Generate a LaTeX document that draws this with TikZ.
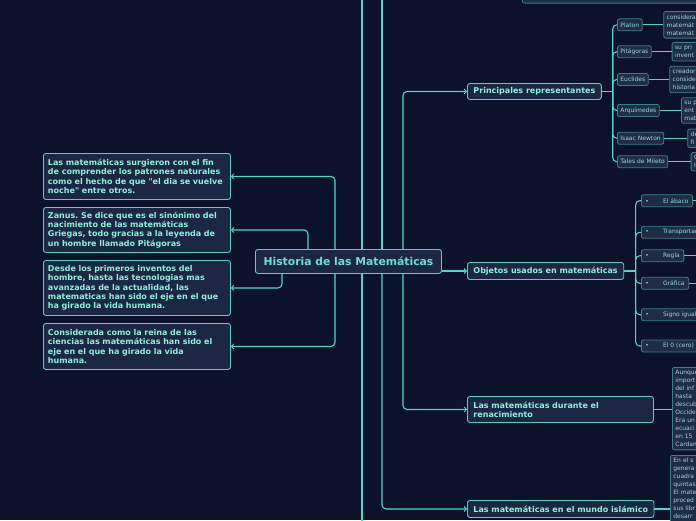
\documentclass[tikz,border=0pt]{standalone}
\usepackage{fontspec}
\setmainfont{DejaVu Sans}
\usetikzlibrary{arrows.meta,positioning,calc}
\definecolor{bgc}{HTML}{0B1229}
\definecolor{fillc}{HTML}{1C2743}
\definecolor{bordc}{HTML}{55CFC4}
\definecolor{edgec}{HTML}{4FD6C8}
\definecolor{textc}{HTML}{8EF0D8}
\definecolor{rootc}{HTML}{72DCD0}
\definecolor{sfillc}{HTML}{1E2D45}
\definecolor{sbordc}{HTML}{3D7E86}
\definecolor{stextc}{HTML}{A0D4D6}
\frenchspacing

\begin{document}
\begin{tikzpicture}[
  x=1pt, y=-1pt,
  line/.style={draw=edgec, line width=1.1pt, rounded corners=4pt},
  arr/.style={line, -{Straight Barb[length=2.2pt, width=5pt, line width=1pt]}},
  big/.style={draw=bordc, fill=fillc, line width=0.9pt, rounded corners=2.5pt,
              text=textc, inner xsep=6pt, inner ysep=0pt,
              font=\fontsize{8}{9.2}\selectfont\bfseries},
  note/.style={big, anchor=north west, minimum width=187pt, text width=178pt,
               inner xsep=4.5pt, align=left},
  head/.style={big, anchor=north west, minimum height=17pt},
  small/.style={draw=sbordc, fill=sfillc, line width=0.8pt, rounded corners=2pt,
                text=stextc, font=\fontsize{6}{8}\selectfont, inner xsep=3pt,
                inner ysep=0pt, minimum height=12pt, anchor=west},
  item/.style={small, inner xsep=4pt, align=left},
  desc/.style={small, inner ysep=3pt, text width=60pt, align=left}
]
\useasboundingbox (0,0) rectangle (696,520);
\clip (0,0) rectangle (696,520);
\fill[bgc] (0,0) rectangle (696,520);

% ---------------- central topic ----------------
\node[big, anchor=north west, minimum width=186pt, minimum height=24pt, text=rootc,
      font=\fontsize{10.8}{12}\selectfont\bfseries] (root) at (255,249)
  {Historia de las Matemáticas};

% ---------------- left notes ----------------
\node[note, minimum height=46pt] (l1) at (43,153)
  {Las matemáticas surgieron con el fin\\ de comprender los patrones naturales\\
   como el hecho de que \textquotedbl el dia se vuelve\\ noche\textquotedbl\ entre otros.};
\node[note, minimum height=45pt] (l2) at (43,207)
  {Zanus. Se dice que es el sinónimo del\\ nacimiento de las matemáticas\\
   Griegas, todo gracias a la leyenda de\\ un hombre llamado Pitágoras};
\node[note, minimum height=55pt] (l3) at (43,260)
  {Desde los primeros inventos del\\ hombre, hasta las tecnologias mas\\
   avanzadas de la actualidad, las\\ matematicas han sido el eje en el que\\
   ha girado la vida humana.};
\node[note, minimum height=46pt] (l4) at (43,323)
  {Considerada como la reina de las\\ ciencias las matemáticas han sido el\\
   eje en el que ha girado la vida\\ humana.};

% ---------------- main branches ----------------
\node[head, minimum width=132pt, minimum height=16pt] (rep) at (467,83)
  {Principales representantes};
\node[head, minimum width=154pt] (obj) at (467,262) {Objetos usados en matemáticas};
\node[head, minimum width=186pt, minimum height=26pt, text width=174pt, align=left]
  (ren) at (467,396) {Las matemáticas durante el\\ renacimiento};
\node[head, minimum width=185pt] (isl) at (467,500) {Las matemáticas en el mundo islámico};
\node[desc, anchor=south west, minimum height=30pt, text width=180pt] (topnode) at (522,3.5) {};

% ---------------- representantes ----------------
\node[small] (platon) at (617,24.8) {Platon};
\node[small] (pitagoras) at (617,51.7) {Pitágoras};
\node[small] (euclides) at (617,79.5) {Euclides};
\node[small] (arquimedes) at (617,110.5) {Arquímedes};
\node[small] (newton) at (617,138.2) {Isaac Newton};
\node[small] (tales) at (617,161.7) {Tales de Mileto};

\node[desc] (platond) at (663.3,24.8) {considera\\ matemát\\ matemát};
\node[desc] (pitagorasd) at (671.7,51.7) {su pri\\ invent};
\node[desc] (euclidesd) at (669.3,79.5) {creador\\ conside\\ historia};
\node[desc] (arquimedesd) at (681,110.5) {su p\\ ent\\ mat};
\node[desc] (newtond) at (687.3,138.2) {de\\ fi};
\node[desc] (talesd) at (690.7,161.7) {C\\ I};

% ---------------- objetos ----------------
\node[item] (abaco) at (641,200.7) {\makebox[17.7pt][l]{\textbullet}El ábaco};
\node[item] (transp) at (641,232.3) {\makebox[17.7pt][l]{\textbullet}Transportador};
\node[item] (regla) at (641,255.7) {\makebox[17.7pt][l]{\textbullet}Regla};
\node[item] (grafica) at (641,283.3) {\makebox[17.7pt][l]{\textbullet}Gráfica};
\node[item] (signo) at (641,314.7) {\makebox[17.7pt][l]{\textbullet}Signo igual};
\node[item] (cero) at (641,346) {\makebox[17.7pt][l]{\textbullet}El 0 (cero)\hspace{6pt}};

% ---------------- renacimiento / islam ----------------
\node[desc, anchor=north west] (rend) at (672,367)
  {Aunque\\ import\\ del inf\\ hasta\\ descub\\ Occide\\ Era un\\ ecuaci\\ en 15\\ Cardan};
\node[desc, anchor=north west] (isld) at (670,455)
  {En el s\\ genera\\ cuadra\\ quintas\\ El mate\\ proced\\ sus libr\\ desarr\\ \strut};

% ---------------- connectors ----------------
\coordinate (upA) at (382,-10);
\coordinate (upB) at (362,-10);
\coordinate (downB) at (362,530);
\draw[arr] ($(root.north west)+(80,0)$) |- (l1.east);
\draw[arr] ($(root.north west)+(53,0)$) |- (l2.east);
\draw[arr] ($(root.south west)+(27,0)$) |- (l3.east);
\draw[arr] ($(root.south west)+(80,0)$) |- (l4.east);
\draw[line] ($(root.north west)+(107,0)$) -- (upB);
\draw[line] ($(root.south west)+(107,0)$) -- (downB);
\draw[line] ($(root.north west)+(127,0)$) -- (upA);
\draw[arr] ($(root.south west)+(127,0)$) |- (isl.west);
\draw[arr] ($(root.north west)+(148,0)$) |- (rep.west);
\draw[arr] ($(root.south west)+(148,0)$) |- (ren.west);
\draw[arr] (root.east |- obj.west) -- (obj.west);

\draw[line] (rep.east) -- ++(11,0) coordinate (rj);
\foreach \n in {platon,pitagoras,euclides,arquimedes,newton,tales} {
  \draw[line] (rj) |- (\n.west);
  \draw[line] (\n.east) -- (\n d.west);
}
\draw[line] (obj.east) -- ++(11.5,0) coordinate (oj);
\foreach \n in {abaco,transp,regla,grafica,signo,cero}
  \draw[line] (oj) |- (\n.west);
\foreach \n in {abaco,regla,grafica}
  \draw[line] (\n.east) -- ++(20,0);
\draw[line] (ren.east) -- (ren.east -| rend.west);
\draw[line] (isl.east) -- (isl.east -| isld.west);
\end{tikzpicture}
\end{document}
